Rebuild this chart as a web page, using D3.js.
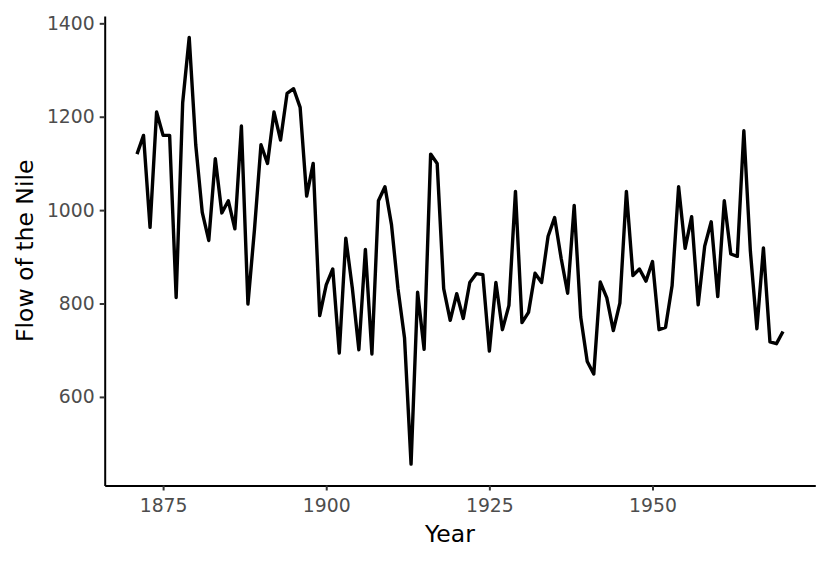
<!DOCTYPE html>
<html>
<head>
<meta charset="utf-8">
<script src="https://cdn.jsdelivr.net/npm/d3@7"></script>
<style>
  html, body { margin: 0; padding: 0; background: #fff; }
  svg { display: block; }
</style>
</head>
<body>
<svg id="chart" width="830" height="562"></svg>
<script>
const startYear = 1871;
const flow = [1120,1160,963,1210,1160,1160,813,1230,1370,1140,995,935,1110,994,1020,960,1180,799,958,1140,
  1100,1210,1150,1250,1260,1220,1030,1100,774,840,874,694,940,833,701,916,692,1020,1050,969,
  831,726,456,824,702,1120,1100,832,764,821,768,845,864,862,698,845,744,796,1040,759,
  781,865,845,944,984,897,822,1010,771,676,649,846,812,742,801,1040,860,874,848,890,
  744,749,838,1050,918,986,797,923,975,815,1020,906,901,1170,912,746,919,718,714,740];
const years = flow.map((_, i) => startYear + i);
const xTicks = [1875, 1900, 1925, 1950];
const yTicks = [600, 800, 1000, 1200, 1400];
const xTitle = "Year";
const yTitle = "Flow of the Nile";

const data = years.map((yr, i) => ({ year: yr, value: flow[i] }));

const svg = d3.select("#chart");
const pLeft = 104.7, pRight = 815.3, pTop = 16, pBottom = 485.5;

const xMin = d3.min(years), xMax = d3.max(years);
const xPad = (xMax - xMin) * 0.05;
const yMin = d3.min(flow), yMax = d3.max(flow);
const yPad = (yMax - yMin) * 0.05;

const x = d3.scaleLinear().domain([xMin - xPad, xMax + xPad]).range([pLeft, pRight]);
const y = d3.scaleLinear().domain([yMin - yPad, yMax + yPad]).range([pBottom, pTop]);

const tickFont = "DejaVu Sans, sans-serif";
const tickSize = 18.8, titleSize = 23.5;

// x axis
const gx = svg.append("g").attr("transform", `translate(0,${pBottom})`)
  .call(d3.axisBottom(x).tickValues(xTicks).tickFormat(d3.format("d")).tickSize(5).tickSizeOuter(0).tickPadding(8));
gx.select(".domain").attr("stroke", "#000").attr("stroke-width", 2);
gx.selectAll(".tick line").attr("stroke", "#333").attr("stroke-width", 2);
gx.selectAll(".tick text").attr("fill", "#4D4D4D").attr("font-size", tickSize).attr("font-family", tickFont);

// y axis
const gy = svg.append("g").attr("transform", `translate(${pLeft},0)`)
  .call(d3.axisLeft(y).tickValues(yTicks).tickFormat(d3.format("d")).tickSize(5).tickSizeOuter(0).tickPadding(5));
gy.select(".domain").attr("stroke", "#000").attr("stroke-width", 2);
gy.selectAll(".tick line").attr("stroke", "#333").attr("stroke-width", 2);
gy.selectAll(".tick text").attr("fill", "#4D4D4D").attr("font-size", tickSize).attr("font-family", tickFont);

// line
const line = d3.line().x(d => x(d.year)).y(d => y(d.value));
svg.append("path").datum(data)
  .attr("d", line)
  .attr("fill", "none")
  .attr("stroke", "#000")
  .attr("stroke-width", 3.4)
  .attr("stroke-linejoin", "round")
  .attr("stroke-linecap", "butt");

// titles
svg.append("text")
  .attr("x", 450).attr("y", 541.5)
  .attr("text-anchor", "middle")
  .attr("font-family", tickFont).attr("font-size", titleSize)
  .attr("fill", "#000")
  .text(xTitle);

svg.append("text")
  .attr("transform", `translate(33,${(pTop + pBottom) / 2}) rotate(-90)`)
  .attr("text-anchor", "middle")
  .attr("font-family", tickFont).attr("font-size", titleSize)
  .attr("fill", "#000")
  .text(yTitle);
</script>
</body>
</html>
